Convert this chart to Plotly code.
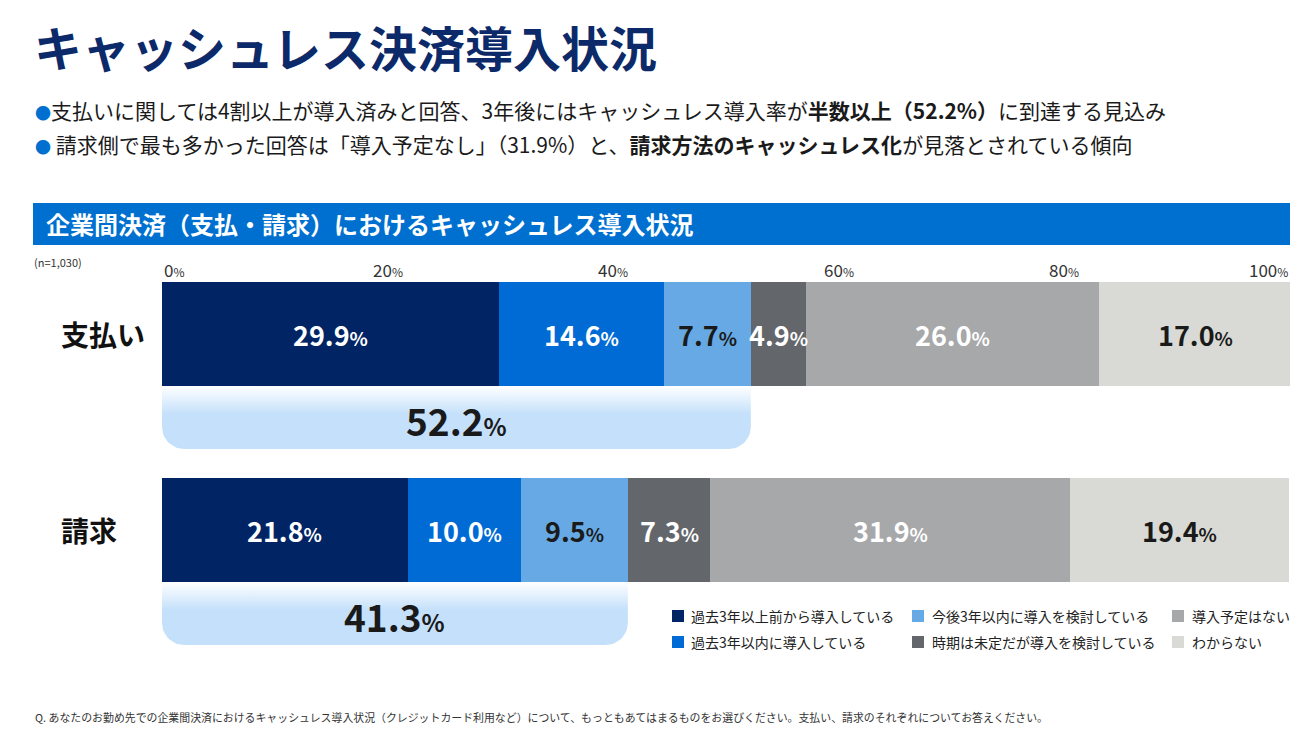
import numpy as np
import plotly.graph_objects as go

# ---------------- data ----------------
categories = ["支払い", "請求"]
series_names = [
    "過去3年以上前から導入している",
    "過去3年以内に導入している",
    "今後3年以内に導入を検討している",
    "時期は未定だが導入を検討している",
    "導入予定はない",
    "わからない",
]
shiharai = [29.9, 14.6, 7.7, 4.9, 26.0, 17.0]
seikyu = [21.8, 10.0, 9.5, 7.3, 31.9, 19.4]
totals = [52.2, 41.3]          # 導入済み + 3年以内検討
tick_values = [0, 20, 40, 60, 80, 100]
tick_labels = ["0", "20", "40", "60", "80", "100"]

# ---------------- style ----------------
FONT = "Noto Sans CJK JP"
OFF = 8                      # page body margin
W, H = 1299 - OFF, 733 - OFF
colors = ["#002464", "#006BD4", "#66A9E4", "#63666B", "#A7A8AA", "#D9DAD5"]
text_colors = ["#FFFFFF", "#FFFFFF", "#1A1A1A", "#FFFFFF", "#FFFFFF", "#1A1A1A"]
BOX_COLOR = "#C4E0FB"


def py(p):
    return 1 - (p - OFF) / H


def px(p):
    return (p - OFF) / W


# y axis mapping: category 0 centre at pixel 334, category 1 at 530
C0, STEP = 334, 196
yrange = [(H + OFF - C0) / STEP, (OFF - C0) / STEP]
bar_w = 104 / STEP
box_h = 63 / STEP
rx = 22 * 100 / 1128
ry = 22 / STEP

fig = go.Figure()

rows = [shiharai, seikyu]
ypos = list(range(len(categories)))

for i, name in enumerate(series_names):
    vals = [r[i] for r in rows]
    fig.add_trace(go.Bar(
        x=vals, y=ypos, orientation="h", name=name,
        width=bar_w,
        marker=dict(color=colors[i], line=dict(width=0)),
        showlegend=False, hoverinfo="skip", cliponaxis=False,
    ))

# value labels at the centre of each segment
for j, r in enumerate(rows):
    cum = np.concatenate([[0], np.cumsum(r)])
    for i, v in enumerate(r):
        fig.add_annotation(
            x=(cum[i] + cum[i + 1]) / 2, y=ypos[j], xref="x", yref="y",
            text=f"<b>{v:.1f}</b><span style='font-size:19px'><b>%</b></span>",
            showarrow=False, font=dict(family=FONT, size=27, color=text_colors[i]),
            xanchor="center", yanchor="middle",
        )

# summary boxes (rounded bottom corners, vertical gradient)
for i, tot in enumerate(totals):
    top_v = ypos[i] + bar_w / 2
    bot_v = top_v + box_h
    t = np.linspace(0, np.pi / 2, 16)
    xs = [0, tot, tot]
    ys = [top_v, top_v, bot_v - ry]
    cx, cy = tot - rx, bot_v - ry
    xs += list(cx + rx * np.cos(t))
    ys += list(cy + ry * np.sin(t))
    cx, cy = rx, bot_v - ry
    xs += list(cx - rx * np.sin(t))
    ys += list(cy + ry * np.cos(t))
    xs += [0]
    ys += [top_v]
    fig.add_trace(go.Scatter(
        x=xs, y=ys, mode="lines", line=dict(width=0, color=BOX_COLOR),
        fill="toself", fillcolor=BOX_COLOR,
        fillgradient=dict(type="vertical", start=top_v, stop=bot_v,
                          colorscale=[[0, "#FFFFFF"], [0.45, BOX_COLOR], [1, BOX_COLOR]]),
        showlegend=False, hoverinfo="skip",
    ))
    fig.add_annotation(
        x=tot / 2, y=(top_v + bot_v) / 2 + 2 / STEP, xref="x", yref="y",
        text=f"<b>{tot:.1f}</b><span style='font-size:24px'><b>%</b></span>",
        showarrow=False, font=dict(family=FONT, size=37, color="#1A1A1A"),
        xanchor="center", yanchor="middle",
    )

# category labels
for i, c in enumerate(categories):
    fig.add_annotation(
        x=px(59), y=ypos[i], xref="paper", yref="y", text=f"<b>{c}</b>",
        showarrow=False, font=dict(family=FONT, size=28, color="#111111"),
        xanchor="left", yanchor="middle",
    )

# top tick labels
for v, lab in zip(tick_values, tick_labels):
    anchor = "left" if v == tick_values[0] else ("right" if v == tick_values[-1] else "center")
    fig.add_annotation(
        x=v, y=py(270), xref="x", yref="paper",
        text=f"{lab}<span style='font-size:12px'>%</span>",
        showarrow=False, font=dict(family=FONT, size=17, color="#333333"),
        xanchor=anchor, yanchor="middle",
    )

# title
fig.add_annotation(
    x=px(32), y=py(46), xref="paper", yref="paper",
    text="<b>キャッシュレス決済導入状況</b>", showarrow=False,
    font=dict(family=FONT, size=48, color="#0C2A6A"), xanchor="left", yanchor="middle",
)

# bullets
bullet = "<span style='color:#0070D0;font-size:16px'>●</span>"
fig.add_annotation(
    x=px(33), y=py(110), xref="paper", yref="paper",
    text=bullet + "支払いに関しては4割以上が導入済みと回答、3年後にはキャッシュレス導入率が"
         "<b>半数以上（52.2%）</b>に到達する見込み",
    showarrow=False, font=dict(family=FONT, size=21, color="#1A1A1A"),
    xanchor="left", yanchor="middle",
)
fig.add_annotation(
    x=px(33), y=py(144), xref="paper", yref="paper",
    text=bullet + " 請求側で最も多かった回答は「導入予定なし」（31.9%）と、"
         "<b>請求方法のキャッシュレス化</b>が見落とされている傾向",
    showarrow=False, font=dict(family=FONT, size=21, color="#1A1A1A"),
    xanchor="left", yanchor="middle",
)

# banner
fig.add_shape(type="rect", xref="paper", yref="paper",
              x0=px(33), x1=px(1290), y0=py(245), y1=py(203),
              fillcolor="#0070D0", line=dict(width=0), layer="below")
fig.add_annotation(
    x=px(44), y=py(224), xref="paper", yref="paper",
    text="<b>企業間決済（支払・請求）におけるキャッシュレス導入状況</b>",
    showarrow=False, font=dict(family=FONT, size=24, color="#FFFFFF"),
    xanchor="left", yanchor="middle",
)

# n
fig.add_annotation(
    x=px(32), y=py(262), xref="paper", yref="paper", text="(n=1,030)",
    showarrow=False, font=dict(family=FONT, size=11, color="#333333"),
    xanchor="left", yanchor="middle",
)

# legend (custom, column-major)
sq_x = [672, 912, 1172]
txt_x = [689, 930, 1190]
row_y = [616, 642]
for i, name in enumerate(series_names):
    c, r = i // 2, i % 2
    fig.add_shape(type="rect", xref="paper", yref="paper",
                  x0=px(sq_x[c]), x1=px(sq_x[c] + 12),
                  y0=py(row_y[r] + 6), y1=py(row_y[r] - 6),
                  fillcolor=colors[i], line=dict(width=0))
    fig.add_annotation(
        x=px(txt_x[c]), y=py(row_y[r]), xref="paper", yref="paper", text=name,
        showarrow=False, font=dict(family=FONT, size=14, color="#222222"),
        xanchor="left", yanchor="middle",
    )

# footnote
fig.add_annotation(
    x=px(33), y=py(717), xref="paper", yref="paper",
    text="Q. あなたのお勤め先での企業間決済におけるキャッシュレス導入状況（クレジットカード利用など）について、"
         "もっともあてはまるものをお選びください。支払い、請求のそれぞれについてお答えください。",
    showarrow=False, font=dict(family=FONT, size=10.9, color="#333333"),
    xanchor="left", yanchor="middle",
)

fig.update_layout(
    width=W, height=H, barmode="stack",
    margin=dict(l=0, r=0, t=0, b=0),
    paper_bgcolor="white", plot_bgcolor="white",
    xaxis=dict(domain=[px(162), px(1290)], range=[0, 100], visible=False, fixedrange=True),
    yaxis=dict(range=yrange, visible=False, fixedrange=True),
    showlegend=False,
    font=dict(family=FONT),
)

fig.write_html("out.html")
